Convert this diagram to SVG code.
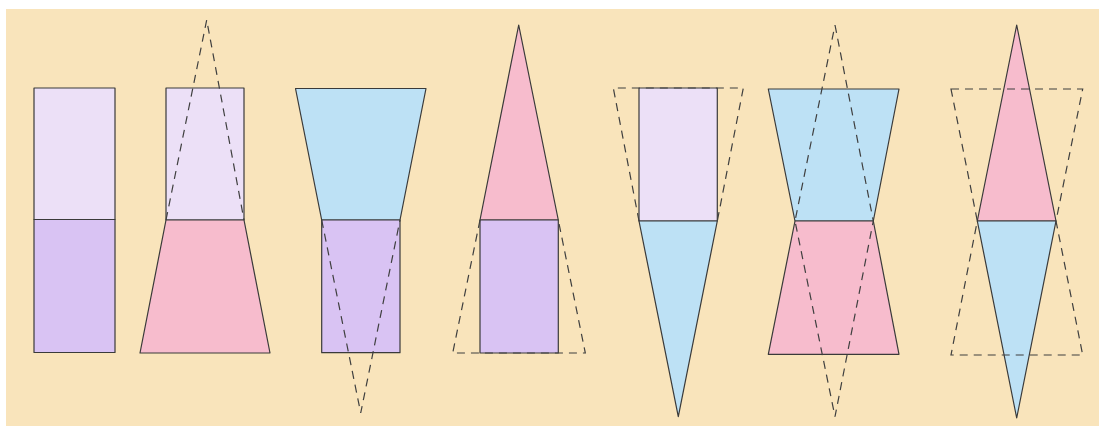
<svg xmlns="http://www.w3.org/2000/svg" width="1099" height="426" viewBox="0 0 1099 426">
<style>
.s{stroke:#3a3a3a;stroke-width:1.2;stroke-linejoin:round}
.d{fill:none;stroke:#3f3f3f;stroke-width:1.2;stroke-dasharray:8 6}
.lav{fill:#ece0f7}
.pur{fill:#d9c3f3}
.pink{fill:#f7bccd}
.blue{fill:#bde1f5}
</style>
<rect x="0" y="0" width="1099" height="426" fill="#ffffff"/>
<rect x="6" y="9" width="1093" height="417" fill="#f9e4bb"/>
<g id="fig1">
<rect class="s lav" x="34" y="88" width="81" height="131.5"/>
<rect class="s pur" x="34" y="219.5" width="81" height="133"/>
</g>
<g id="fig2">
<rect class="s lav" x="166" y="88" width="78" height="132"/>
<polygon class="s pink" points="166,220 244,220 270,353 140,353"/>
</g>
<g id="fig3">
<polygon class="s blue" points="295.5,88.5 426,88.5 400,220 321.7,220"/>
<rect class="s pur" x="321.7" y="220" width="78.3" height="132.7"/>
</g>
<g id="fig4">
<polygon class="s pink" points="518.7,25 558.3,220 480,220"/>
<rect class="s pur" x="480" y="220" width="78.3" height="133"/>
</g>
<g id="fig5">
<rect class="s lav" x="639" y="88" width="78.3" height="133"/>
<polygon class="s blue" points="639,221 717.3,221 678.3,416.7"/>
</g>
<g id="fig6">
<polygon class="s blue" points="768.3,89 899,89 873.3,221 795,221"/>
<polygon class="s pink" points="795,221 873.3,221 899,354.3 768.3,354.3"/>
</g>
<g id="fig7">
<polygon class="s pink" points="1016.7,25 1056,221 977.3,221"/>
<polygon class="s blue" points="977.3,221 1056,221 1016.7,418"/>
</g>
<g id="connectors">
<polyline class="d" points="166,220 206.7,20 244,220"/>
<polyline class="d" points="321.7,220 360.7,413 400,220"/>
<polyline class="d" points="480,220 452.7,353 585.3,353 558.3,220"/>
<polyline class="d" points="639,221 613.3,88 743.3,88 717.3,221"/>
<polygon class="d" points="835,25 873.3,221 835,416.7 795,221"/>
<polygon class="d" points="951,89 1082.7,89 1056,221 1082.7,355 951,355 977.3,221"/>
</g>
</svg>
